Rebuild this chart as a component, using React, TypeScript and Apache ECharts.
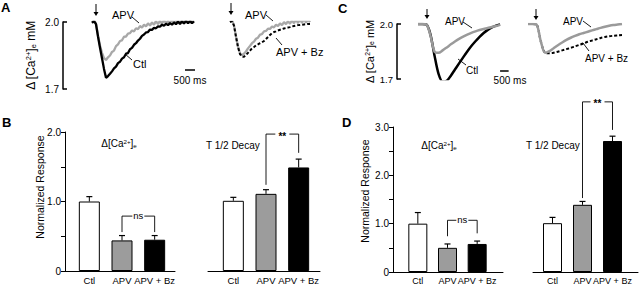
import React, { useEffect, useRef } from 'react';
import * as echarts from 'echarts';

const FONT = '"Liberation Sans", Arial, Helvetica, sans-serif';

// ---------- Panel A: Δ[Ca2+]e traces (mM), one sample every 100 ms ----------
const A_STEP_MS = 100;
const aLeftCtl = [
  1.996, 2.004, 1.990, 1.935, 1.885, 1.838, 1.790, 1.750, 1.758, 1.768,
  1.779, 1.792, 1.800, 1.816, 1.822, 1.836, 1.842, 1.858, 1.861, 1.878,
  1.884, 1.898, 1.905, 1.917, 1.925, 1.938, 1.944, 1.953, 1.955, 1.966,
  1.965, 1.974, 1.972, 1.980, 1.979, 1.988, 1.983, 1.992, 1.986, 1.995,
  1.988, 1.998, 1.990, 2.002, 1.991, 2.004, 1.993, 2.006, 1.994, 2.005,
  1.995, 2.003,
];
const aLeftApv = [
  1.998, 2.010, 1.992, 1.940, 1.895, 1.862, 1.838, 1.830, 1.842, 1.850,
  1.866, 1.872, 1.892, 1.900, 1.915, 1.918, 1.934, 1.935, 1.948, 1.950,
  1.962, 1.958, 1.972, 1.968, 1.982, 1.975, 1.988, 1.980, 1.994, 1.984,
  1.998, 1.988, 2.004, 1.990, 2.006, 1.992, 2.010, 1.993, 2.006, 1.994,
  2.012, 1.995, 2.008, 1.996, 2.014, 1.995, 2.010, 1.997, 2.012, 1.996,
  2.008, 2.000,
];
const aRightApv = [
  2.000, 2.008, 1.985, 1.935, 1.890, 1.860, 1.852, 1.858, 1.868, 1.882,
  1.893, 1.905, 1.912, 1.925, 1.930, 1.944, 1.946, 1.958, 1.960, 1.970,
  1.969, 1.980, 1.976, 1.988, 1.982, 1.994, 1.986, 2.000, 1.990, 2.004,
  1.992, 2.008, 1.994, 2.012, 1.995, 2.014, 1.996, 2.016, 1.997, 2.012,
  1.999,
];
const aRightApvBz = [
  2.000, 2.004, 1.984, 1.934, 1.888, 1.856, 1.845, 1.844, 1.852, 1.862,
  1.872, 1.882, 1.888, 1.895, 1.900, 1.905, 1.909, 1.915, 1.924, 1.933,
  1.942, 1.950, 1.955, 1.958, 1.962, 1.965, 1.968, 1.971, 1.973, 1.975,
  1.977, 1.980, 1.982, 1.984, 1.986, 1.987, 1.988, 1.989, 1.990, 1.991,
  1.991,
];

// ---------- Panel C: Δ[Ca2+]e traces (mM) ----------
const C_LEFT_STEP_MS = 240;
const cLeftCtl = [
  2.000, 2.000, 1.998, 1.945, 1.830, 1.728, 1.686, 1.690, 1.718, 1.752,
  1.785, 1.818, 1.850, 1.880, 1.906, 1.930, 1.951, 1.968, 1.981, 1.991,
  1.998,
];
const cLeftApv = [
  2.000, 2.000, 1.998, 1.940, 1.850, 1.843, 1.856, 1.872, 1.889, 1.905,
  1.919, 1.931, 1.942, 1.952, 1.960, 1.967, 1.973, 1.978, 1.984, 1.989,
  1.995,
];
const C_RIGHT_STEP_MS = 250;
const cRightApv = [
  2.000, 2.000, 1.997, 1.905, 1.843, 1.852, 1.868, 1.884, 1.899, 1.913,
  1.925, 1.935, 1.944, 1.951, 1.958, 1.965, 1.972, 1.979, 1.985, 1.990,
  1.994, 1.997, 2.000,
];
const cRightApvBz = [
  2.000, 2.000, 1.997, 1.905, 1.843, 1.840, 1.843, 1.849, 1.856, 1.863,
  1.870, 1.878, 1.886, 1.894, 1.903, 1.910, 1.917, 1.924, 1.929, 1.933,
  1.936, 1.938, 1.940,
];

// scale bars: [start (ms after trace start), level (mM), length (ms)]
const aScaleBar = [4650, 1.785, 500];
const cScaleBar = [4800, 1.744, 500];

// ---------- Bar charts: normalized response ----------
const barCategories = ['Ctl', 'APV', 'APV + Bz'];
const bAmpMean = [1.0, 0.44, 0.45];
const bAmpErr = [0.07, 0.07, 0.06];
const bDecayMean = [1.01, 1.11, 1.49];
const bDecayErr = [0.05, 0.06, 0.12];
const dAmpMean = [1.0, 0.5, 0.58];
const dAmpErr = [0.23, 0.08, 0.06];
const dDecayMean = [1.01, 1.39, 2.71];
const dDecayErr = [0.12, 0.07, 0.1];

// significance brackets: [fromIndex, toIndex, level, leftLegEnd, rightLegEnd]
const bAmpBracket = [1, 2, 0.79, 0.56, 0.56];
const bDecayBracket = [1, 2, 1.97, 1.24, 1.7];
const dAmpBracket = [1, 2, 1.07, 0.74, 0.8];
const dDecayBracket = [1, 2, 3.52, 1.53, 2.94];
const NS = 'ns';
const SIG = '**';

const CA_LABEL = '{t|Δ [Ca}{s|2+}{t|]}{b|e}{t| mM}';
const CA_TITLE = '{t|Δ[Ca}{s|2+}{t|]}{b|e}';

const BAR_FILL = ['#ffffff', '#9c9c9c', '#000000'];
const GRAY_TRACE = '#a8a8a8';
const GRAY_TRACE_C = '#9a9a9a';

// time shown on each trace axis before the first sample (gap between scale bar and trace)
const A_LEFT_LEAD_MS = 1450;
const C_LEFT_LEAD_MS = 1230;

function caRich(fs: number) {
  return {
    t: { fontSize: fs, fontFamily: FONT, color: '#000', fill: '#000' },
    s: { fontSize: fs * 0.62, fontFamily: FONT, color: '#000', fill: '#000', verticalAlign: 'top' },
    b: { fontSize: fs * 0.62, fontFamily: FONT, color: '#000', fill: '#000', verticalAlign: 'bottom' },
  };
}

function traceSeries(idx: number, lead: number, step: number, values: number[], color: string, width: number, dashed: boolean, smooth: number | boolean) {
  return {
    type: 'line',
    xAxisIndex: idx,
    yAxisIndex: idx,
    data: values.map((v, i) => [lead + i * step, v]),
    showSymbol: false,
    symbol: 'none',
    smooth,
    silent: true,
    lineStyle: { color, width, type: dashed ? [3, 2] : 'solid', cap: 'butt' },
  };
}

function scaleBarSeries(idx: number, lead: number, bar: number[]) {
  return {
    type: 'line',
    xAxisIndex: idx,
    yAxisIndex: idx,
    data: [[lead + bar[0], bar[1]], [lead + bar[0] + bar[2], bar[1]]],
    showSymbol: false,
    symbol: 'none',
    silent: true,
    lineStyle: { color: '#000', width: 1.5 },
  };
}

function barSeries(idx: number, means: number[], width: number) {
  return {
    type: 'bar',
    xAxisIndex: idx,
    yAxisIndex: idx,
    barWidth: width,
    silent: true,
    data: means.map((v, i) => ({
      value: v,
      itemStyle: { color: BAR_FILL[i], borderColor: '#000', borderWidth: 1 },
    })),
    z: 2,
  };
}

function errorSeries(idx: number, means: number[], errs: number[]) {
  return {
    type: 'custom',
    xAxisIndex: idx,
    yAxisIndex: idx,
    silent: true,
    z: 3,
    data: means.map((m, i) => [i, m, m + errs[i]]),
    renderItem: (_p: any, api: any) => {
      const base = api.coord([api.value(0), api.value(1)]);
      const top = api.coord([api.value(0), api.value(2)]);
      return {
        type: 'group',
        children: [
          { type: 'line', shape: { x1: base[0], y1: base[1], x2: top[0], y2: top[1] }, style: { stroke: '#000', lineWidth: 1 } },
          { type: 'line', shape: { x1: top[0] - 3, y1: top[1], x2: top[0] + 3, y2: top[1] }, style: { stroke: '#000', lineWidth: 1.2 } },
        ],
      };
    },
  };
}

function bracketSeries(idx: number, br: number[], label: string) {
  const star = label === SIG;
  return {
    type: 'custom',
    xAxisIndex: idx,
    yAxisIndex: idx,
    silent: true,
    clip: false,
    z: 4,
    data: [br],
    renderItem: (_p: any, api: any) => {
      const l0 = api.coord([api.value(0), api.value(3)]);
      const l1 = api.coord([api.value(0), api.value(2)]);
      const r1 = api.coord([api.value(1), api.value(2)]);
      const r0 = api.coord([api.value(1), api.value(4)]);
      const mid = (l1[0] + r1[0]) / 2;
      const gap = star ? 7 : 6;
      const st = { stroke: '#000', fill: null, lineWidth: 0.9 };
      return {
        type: 'group',
        children: [
          { type: 'polyline', shape: { points: [[l0[0], l0[1]], [l1[0], l1[1]], [mid - gap, l1[1]]] }, style: st },
          { type: 'polyline', shape: { points: [[mid + gap, r1[1]], [r1[0], r1[1]], [r0[0], r0[1]]] }, style: st },
          {
            type: 'text',
            x: mid,
            y: l1[1] + (star ? 2 : -0.5),
            style: { text: label, fill: '#000', fontSize: star ? 10 : 9.5, fontFamily: FONT, fontWeight: star ? 'bold' : 'normal', align: 'center', verticalAlign: 'middle' },
          },
        ],
      };
    },
  };
}

function buildOption() {
  const grids = [
    { left: 63, top: 22, width: 140, height: 67 }, // 0 A left traces
    { left: 230, top: 22, width: 81, height: 67 }, // 1 A right traces
    { left: 397, top: 24, width: 123, height: 55 }, // 2 C left traces
    { left: 528, top: 24, width: 94, height: 55 }, // 3 C right traces
    { left: 65, top: 132, width: 110, height: 139 }, // 4 B left axes
    { left: 73, top: 132, width: 98, height: 139 }, // 5 B left bars
    { left: 208, top: 132, width: 112, height: 139 }, // 6 B right axes
    { left: 217, top: 132, width: 98, height: 139 }, // 7 B right bars
    { left: 393, top: 127, width: 110, height: 145 }, // 8 D left axes
    { left: 403, top: 127, width: 89, height: 145 }, // 9 D left bars
    { left: 533, top: 127, width: 105, height: 145 }, // 10 D right axes
    { left: 537.5, top: 127, width: 90, height: 145 }, // 11 D right bars
  ].map((g) => ({ ...g, containLabel: false, outerBoundsMode: 'none', show: false }));

  const hiddenX = (gi: number, min: number, max: number) => ({
    gridIndex: gi, type: 'value', min, max, show: false,
    axisLine: { show: false, onZero: false }, splitLine: { show: false },
  });
  const scaleY = (gi: number, fs: number, nameGap: number, nameFs: number) => ({
    gridIndex: gi,
    type: 'value',
    position: 'left',
    min: 1.7,
    max: 2.0,
    interval: 0.3,
    name: CA_LABEL,
    nameLocation: 'middle',
    nameRotate: 90,
    nameGap,
    nameTextStyle: { rich: caRich(nameFs), color: '#000', fontFamily: FONT, fontSize: nameFs },
    axisLine: { show: true, onZero: false, lineStyle: { color: '#000', width: 1.5 } },
    axisTick: { show: true, inside: true, length: 4, lineStyle: { color: '#000', width: 1.5 } },
    axisLabel: { show: true, color: '#000', fontSize: fs, fontFamily: FONT, margin: 4, formatter: (v: number) => v.toFixed(1) },
    splitLine: { show: false },
  });
  const hiddenY = (gi: number, min: number, max: number) => ({ gridIndex: gi, type: 'value', min, max, show: false, splitLine: { show: false } });
  const baseX = (gi: number) => ({
    gridIndex: gi,
    type: 'value',
    min: 0,
    max: 1,
    axisLine: { show: true, onZero: false, lineStyle: { color: '#000', width: 1 } },
    axisTick: { show: false },
    axisLabel: { show: false },
    splitLine: { show: false },
  });
  const barY = (gi: number, max: number) => ({
    gridIndex: gi,
    type: 'value',
    min: 0,
    max,
    interval: 0.5,
    axisLine: { show: true, onZero: false, lineStyle: { color: '#000', width: 1 } },
    axisTick: { show: true, length: 4, lineStyle: { color: '#000', width: 1 } },
    axisLabel: {
      color: '#000',
      fontSize: 10,
      fontFamily: FONT,
      margin: 4,
      formatter: (v: number) => (Math.abs(v - Math.round(v)) < 1e-6 ? (v === 0 ? '0' : v.toFixed(1)) : ''),
    },
    splitLine: { show: false },
  });
  const catX = (gi: number, fs: number) => ({
    gridIndex: gi,
    type: 'category',
    data: barCategories,
    axisLine: { show: false },
    axisTick: { show: false },
    axisLabel: { interval: 0, color: '#000', fontSize: fs, fontFamily: FONT, margin: 4, hideOverlap: false },
    splitLine: { show: false },
  });

  const xAxis = [
    hiddenX(0, 0, 7000),
    hiddenX(1, 0, 4050),
    hiddenX(2, 0, 7195),
    hiddenX(3, 0, 5500),
    baseX(4),
    catX(5, 9.5),
    baseX(6),
    catX(7, 9.5),
    baseX(8),
    catX(9, 9),
    baseX(10),
    catX(11, 9),
  ];
  const yAxis = [
    scaleY(0, 10, 26, 12),
    hiddenY(1, 1.7, 2.0),
    scaleY(2, 9.5, 22, 11),
    hiddenY(3, 1.7, 2.0),
    barY(4, 2),
    hiddenY(5, 0, 2),
    hiddenY(6, 0, 2),
    hiddenY(7, 0, 2),
    barY(8, 3),
    hiddenY(9, 0, 3),
    hiddenY(10, 0, 3),
    hiddenY(11, 0, 3),
  ];

  const series: any[] = [
    traceSeries(0, A_LEFT_LEAD_MS, A_STEP_MS, aLeftApv, GRAY_TRACE, 2.3, false, false),
    traceSeries(0, A_LEFT_LEAD_MS, A_STEP_MS, aLeftCtl, '#000', 2.3, false, false),
    scaleBarSeries(0, A_LEFT_LEAD_MS, aScaleBar),
    traceSeries(1, 0, A_STEP_MS, aRightApv, GRAY_TRACE, 2.3, false, false),
    traceSeries(1, 0, A_STEP_MS, aRightApvBz, '#000', 2, true, false),
    traceSeries(2, C_LEFT_LEAD_MS, C_LEFT_STEP_MS, cLeftCtl, '#000', 2.5, false, 0.3),
    traceSeries(2, C_LEFT_LEAD_MS, C_LEFT_STEP_MS, cLeftApv, GRAY_TRACE_C, 2.5, false, 0.3),
    scaleBarSeries(2, C_LEFT_LEAD_MS, cScaleBar),
    traceSeries(3, 0, C_RIGHT_STEP_MS, cRightApvBz, '#000', 2, true, 0.3),
    traceSeries(3, 0, C_RIGHT_STEP_MS, cRightApv, GRAY_TRACE_C, 2.5, false, 0.3),

    barSeries(5, bAmpMean, 21),
    errorSeries(5, bAmpMean, bAmpErr),
    bracketSeries(5, bAmpBracket, NS),
    barSeries(7, bDecayMean, 21),
    errorSeries(7, bDecayMean, bDecayErr),
    bracketSeries(7, bDecayBracket, SIG),
    barSeries(9, dAmpMean, 19),
    errorSeries(9, dAmpMean, dAmpErr),
    bracketSeries(9, dAmpBracket, NS),
    barSeries(11, dDecayMean, 19),
    errorSeries(11, dDecayMean, dDecayErr),
    bracketSeries(11, dDecayBracket, SIG),
  ];

  const txt = (text: string, x: number, y: number, fontSize: number, align = 'left') => ({
    type: 'text',
    x,
    y,
    silent: true,
    style: { text, fill: '#000', fontSize, fontFamily: FONT, align, verticalAlign: 'middle' },
  });
  const ln = (x1: number, y1: number, x2: number, y2: number, w = 0.9) => ({
    type: 'line',
    silent: true,
    shape: { x1, y1, x2, y2 },
    style: { stroke: '#000', lineWidth: w },
  });
  const arrow = (x: number, y1: number, y2: number) => ({
    type: 'group',
    silent: true,
    children: [
      ln(x, y1, x, y2 - 3, 1),
      { type: 'polygon', shape: { points: [[x - 2.5, y2 - 4], [x + 2.5, y2 - 4], [x, y2]] }, style: { fill: '#000' } },
    ],
  });
  const rotLabel = (text: string, x: number, y: number, fs: number) => ({
    type: 'text',
    x,
    y,
    rotation: Math.PI / 2,
    silent: true,
    style: { text, fill: '#000', fontSize: fs, fontFamily: FONT, align: 'center', verticalAlign: 'middle' },
  });
  const letter = (t: string, x: number, y: number) => ({
    type: 'text',
    x,
    y,
    silent: true,
    style: { text: t, fill: '#000', fontSize: 13, fontWeight: 'bold', fontFamily: FONT, align: 'left', verticalAlign: 'top' },
  });
  const caTitle = (x: number, y: number) => ({
    type: 'text',
    x,
    y,
    silent: true,
    style: { text: CA_TITLE, rich: caRich(10), align: 'center', verticalAlign: 'middle' },
  });

  const graphic: any[] = [
    letter('A', 1, 1),
    letter('B', 2, 116),
    letter('C', 338, 2),
    letter('D', 342, 116),

    rotLabel('Normalized Response', 40, 187, 10.5),
    rotLabel('Normalized Response', 365, 191, 10.5),

    arrow(96, 4, 16),
    arrow(231, 3, 15),
    arrow(427, 9, 19),
    arrow(536, 9, 20),

    txt('APV', 112, 15, 11),
    ln(132, 17, 139, 23),
    txt('Ctl', 133, 64, 11),
    ln(132, 60, 125, 54),
    txt('APV', 245, 15, 11),
    ln(266, 15, 273, 21),
    txt('APV + Bz', 276, 52, 11),
    ln(282, 45, 276, 38),
    txt('500 ms', 190, 80, 10, 'center'),

    txt('APV', 445, 21, 10),
    ln(463, 22, 472, 28),
    txt('Ctl', 466, 70, 10),
    ln(466, 65, 458, 59),
    txt('APV', 563, 21, 10),
    ln(583, 21, 591, 27),
    txt('APV + Bz', 585, 58, 10),
    ln(589, 51, 583, 43),
    txt('500 ms', 510, 80, 10, 'center'),

    caTitle(119, 143),
    txt('T 1/2 Decay', 206, 145, 10),
    caTitle(439, 145),
    txt('T 1/2 Decay', 526, 145, 10),
  ];

  return {
    animation: false,
    backgroundColor: '#ffffff',
    textStyle: { fontFamily: FONT },
    grid: grids,
    xAxis,
    yAxis,
    series,
    graphic,
  };
}

export default function App() {
  const ref = useRef<HTMLDivElement>(null);
  useEffect(() => {
    if (!ref.current) return;
    const chart = echarts.init(ref.current, null, { renderer: 'svg' });
    chart.setOption(buildOption() as any);
    return () => chart.dispose();
  }, []);
  return (
    <div
      ref={ref}
      style={{ position: 'fixed', left: 0, top: 0, width: 640, height: 286, background: '#fff' }}
    />
  );
}
